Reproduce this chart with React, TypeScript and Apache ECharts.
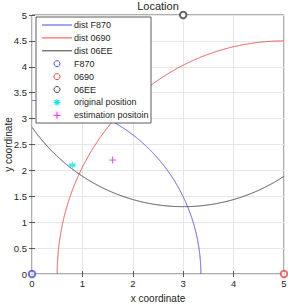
import React, { useEffect, useRef } from "react";
import * as echarts from "echarts";

// Anchors (x, y) and measured distances (radius)
const anchorNames = ["F870", "0690", "06EE"];
const anchorX = [0, 5, 3];
const anchorY = [0, 0, 5];
const anchorDist = [3.35, 4.5, 3.7];
const anchorColors = ["#4a4aee", "#ee4a4a", "#404040"];

const originalPos = [0.8, 2.1];
const estimatedPos = [1.6, 2.2];

const xTicks = [0, 1, 2, 3, 4, 5];
const yTicks = [0, 0.5, 1, 1.5, 2, 2.5, 3, 3.5, 4, 4.5, 5];

const FONT = "'Liberation Sans', Arial, Helvetica, sans-serif";
const TXT = "#262626";

export default function App() {
  const ref = useRef<HTMLDivElement>(null);
  useEffect(() => {
    const chart = echarts.init(ref.current!, null, { renderer: "svg" });
    const xMin = xTicks[0], xMax = xTicks[xTicks.length - 1];
    const yMin = yTicks[0], yMax = yTicks[yTicks.length - 1];

    const circleSeries = anchorNames.map((n, i) => ({
      type: "custom",
      name: "dist " + n,
      xAxisIndex: 0,
      yAxisIndex: 0,
      clip: true,
      silent: true,
      z: 2,
      data: [[anchorX[i], anchorY[i], anchorDist[i]]],
      renderItem: (params: any, api: any) => {
        const cx = api.value(0), cy = api.value(1), r = api.value(2);
        const segs: number[][][] = [];
        let cur: number[][] = [];
        const eps = 1e-9;
        const N = 3600;
        for (let k = 0; k <= N; k++) {
          const t = (k / N) * Math.PI * 2;
          const x = cx + r * Math.cos(t);
          const y = cy + r * Math.sin(t);
          if (x >= xMin - eps && x <= xMax + eps && y >= yMin - eps && y <= yMax + eps) {
            cur.push(api.coord([x, y]));
          } else if (cur.length) {
            segs.push(cur);
            cur = [];
          }
        }
        if (cur.length) segs.push(cur);
        return {
          type: "group",
          children: segs.map((pts) => ({
            type: "polyline",
            shape: { points: pts },
            style: { stroke: anchorColors[i], lineWidth: 1, fill: null },
          })),
        };
      },
    }));

    const anchorSeries = anchorNames.map((n, i) => ({
      type: "scatter",
      name: n,
      xAxisIndex: 0,
      yAxisIndex: 0,
      clip: false,
      symbol: "emptyCircle",
      symbolSize: 6.5,
      itemStyle: { color: anchorColors[i], borderColor: anchorColors[i], borderWidth: 1 },
      data: [[anchorX[i], anchorY[i]]],
      z: 5,
    }));

    const asterisk = "path://M0,-1L0,1M-0.87,-0.5L0.87,0.5M-0.87,0.5L0.87,-0.5M-1,0L1,0M0,-1";
    const plus = "path://M0,-1L0,1M-1,0L1,0";

    const lx = 36, ly = 17, lw = 115, lh = 106, rowH = 12.9, row0 = 8;
    const legendChildren: any[] = [
      { type: "rect", z: 100, shape: { x: lx, y: ly, width: lw, height: lh }, style: { fill: "#ffffff", stroke: "#333", lineWidth: 0.8 } },
    ];
    const labels = [
      "dist F870", "dist 0690", "dist 06EE", "F870", "0690", "06EE", "original position", "estimation positoin",
    ];
    labels.forEach((lab, k) => {
      const cy = ly + row0 + k * rowH;
      legendChildren.push({
        type: "text",
        z: 101,
        x: lx + 38,
        y: cy,
        style: { text: lab, fill: TXT, fontSize: 9, fontFamily: FONT, verticalAlign: "middle", align: "left" },
      });
      const mx = lx + 21;
      if (k < 3) {
        legendChildren.push({ type: "line", z: 101, shape: { x1: lx + 6, y1: cy, x2: lx + 36, y2: cy }, style: { stroke: anchorColors[k], lineWidth: 1 } });
      } else if (k < 6) {
        legendChildren.push({ type: "circle", z: 101, shape: { cx: mx, cy, r: 3 }, style: { stroke: anchorColors[k - 3], fill: "#fff", lineWidth: 1 } });
      } else if (k === 6) {
        const s = 3.2;
        [[0, -1, 0, 1], [-1, 0, 1, 0], [-0.7, -0.7, 0.7, 0.7], [-0.7, 0.7, 0.7, -0.7]].forEach((l) =>
          legendChildren.push({ type: "line", z: 101, shape: { x1: mx + l[0] * s, y1: cy + l[1] * s, x2: mx + l[2] * s, y2: cy + l[3] * s }, style: { stroke: "#00e5ee", lineWidth: 1.2 } })
        );
      } else {
        const s = 3.5;
        [[0, -1, 0, 1], [-1, 0, 1, 0]].forEach((l) =>
          legendChildren.push({ type: "line", z: 101, shape: { x1: mx + l[0] * s, y1: cy + l[1] * s, x2: mx + l[2] * s, y2: cy + l[3] * s }, style: { stroke: "#ee22ee", lineWidth: 1 } })
        );
      }
    });

    const axisCommon = {
      min: 0,
      axisLine: { show: false },
      axisTick: { show: true, inside: true, length: 3, lineStyle: { color: "#333", width: 0.8 } },
      axisLabel: { color: TXT, fontSize: 9.5, fontFamily: FONT },
    };

    chart.setOption({
      animation: false,
      backgroundColor: "#fff",
      title: {
        text: "Location",
        left: 158,
        textAlign: "center",
        top: 0,
        padding: 0,
        textStyle: { fontSize: 11, fontWeight: "normal", color: TXT, fontFamily: FONT },
      },
      grid: {
        left: 32, right: 4, top: 15, bottom: 32,
        containLabel: false,
        outerBoundsMode: "none",
        show: true, borderColor: "#333", borderWidth: 0.8, backgroundColor: "#fff",
      },
      xAxis: [
        {
          ...axisCommon,
          type: "value",
          max: xMax,
          interval: 1,
          name: "x coordinate",
          nameLocation: "middle",
          nameGap: 19,
          nameMoveOverlap: false,
          nameTextStyle: { color: TXT, fontSize: 10, fontFamily: FONT },
          axisLabel: { ...axisCommon.axisLabel, margin: 4 },
          splitLine: { show: true, lineStyle: { color: "#e6e6e6", width: 1 } },
        },
        { ...axisCommon, type: "value", max: xMax, interval: 1, position: "top", axisLabel: { show: false }, splitLine: { show: false } },
      ],
      yAxis: [
        {
          ...axisCommon,
          type: "value",
          max: yMax,
          interval: 0.5,
          name: "y coordinate",
          nameLocation: "middle",
          nameGap: 19,
          nameMoveOverlap: false,
          nameTextStyle: { color: TXT, fontSize: 10, fontFamily: FONT },
          axisLabel: { ...axisCommon.axisLabel, margin: 5 },
          splitLine: { show: true, lineStyle: { color: "#e6e6e6", width: 1 } },
        },
        { ...axisCommon, type: "value", max: yMax, interval: 0.5, position: "right", axisLabel: { show: false }, splitLine: { show: false } },
      ],
      series: [
        ...circleSeries,
        ...anchorSeries,
        {
          type: "scatter",
          name: "original position",
          clip: false,
          symbol: asterisk,
          symbolSize: 7,
          itemStyle: { color: "transparent", borderColor: "#00e5ee", borderWidth: 1.2 },
          data: [originalPos],
          z: 5,
        },
        {
          type: "scatter",
          name: "estimation positoin",
          clip: false,
          symbol: plus,
          symbolSize: 7,
          itemStyle: { color: "transparent", borderColor: "#ee22ee", borderWidth: 1 },
          data: [estimatedPos],
          z: 5,
        },
      ],
      graphic: [{ type: "group", z: 100, children: legendChildren }],
    } as any);
    return () => chart.dispose();
  }, []);
  return <div ref={ref} style={{ position: "absolute", left: 0, top: 0, width: 288, height: 306 }} />;
}
